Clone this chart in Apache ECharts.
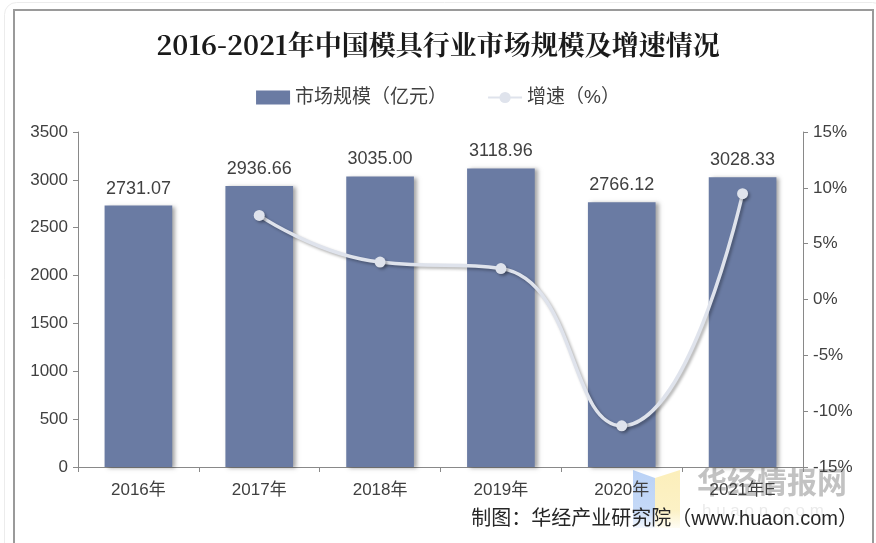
<!DOCTYPE html>
<html><head><meta charset="utf-8">
<script src="https://cdn.jsdelivr.net/npm/echarts@6/dist/echarts.min.js"></script>
<style>html,body{margin:0;padding:0;background:#fff;}#c{width:876px;height:543px;}</style>
</head><body><div id="c"></div>
<script>
var categories = ['2016年','2017年','2018年','2019年','2020年','2021年E'];
var marketSize = [2731.07, 2936.66, 3035.00, 3118.96, 2766.12, 3028.33];
var growthRate = [null, 7.53, 3.35, 2.77, -11.31, 9.48];
var leftTicks = {min: 0, max: 3500, interval: 500};
var rightTicks = {min: -15, max: 15, interval: 5};

var FONT = '"Liberation Sans", Arial, "Noto Sans CJK SC", sans-serif';
var chart = echarts.init(document.getElementById('c'), null, {renderer: 'canvas'});
chart.setOption({
  backgroundColor: '#fff',
  animation: false,
  title: {
    text: '2016-2021年中国模具行业市场规模及增速情况',
    left: 'center', top: 26,
    textStyle: {fontFamily: '"Noto Serif CJK SC","Noto Sans CJK SC", serif', fontWeight: 'bold', fontSize: 27, color: '#1a1a1a'}
  },
  legend: {
    top: 83, left: 'center', itemGap: 40,
    textStyle: {fontFamily: FONT, fontSize: 19, color: '#404040'},
    data: [
      {name: '市场规模（亿元）', icon: 'rect', itemStyle: {color: '#6a7ba3'}},
      {name: '增速（%）'}
    ],
    itemWidth: 34, itemHeight: 14
  },
  graphic: [
    {type: 'rect', shape: {x: 4.5, y: 2.5, width: 880, height: 560, r: 12}, style: {fill: 'none', stroke: '#ececec', lineWidth: 1}, z: -2},
    {type: 'rect', shape: {x: 14, y: 10, width: 859, height: 545}, style: {fill: 'none', stroke: '#9a9a9a', lineWidth: 2}, z: -1},
    {type: 'polygon', shape: {points: [[633,470],[655,478],[655,528],[633,528]]},
     style: {fill: new echarts.graphic.LinearGradient(0,0,0,1,[{offset:0,color:'rgba(140,180,240,0.6)'},{offset:0.7,color:'rgba(140,180,240,0.5)'},{offset:1,color:'rgba(140,180,240,0.1)'}])}},
    {type: 'polygon', shape: {points: [[655,478],[680,470],[680,528],[655,528]]},
     style: {fill: new echarts.graphic.LinearGradient(0,0,0,1,[{offset:0,color:'rgba(250,230,150,0.65)'},{offset:0.7,color:'rgba(250,230,150,0.55)'},{offset:1,color:'rgba(250,230,150,0.1)'}])}},
    {type: 'text', left: 697, top: 467, style: {text: '华经情报网', font: 'bold 30px "Noto Sans CJK SC"', fill: 'rgba(120,120,120,0.45)'}},
    {type: 'text', left: 702, top: 503, style: {text: 'h u a o n . c o m', font: '17px "Liberation Sans"', fill: 'rgba(150,150,150,0.2)'}},
    {type: 'text', right: 18, top: 509, style: {text: '制图：华经产业研究院（www.huaon.com）', font: '20px "Liberation Sans","Noto Sans CJK SC"', fill: '#262626'}}
  ],
  grid: {left: 78, right: 73, top: 132, bottom: 76},
  xAxis: {
    type: 'category', data: categories,
    axisLine: {lineStyle: {color: '#898989'}},
    axisTick: {show: true, alignWithLabel: false, length: 5, lineStyle: {color: '#898989'}},
    axisLabel: {fontFamily: FONT, fontSize: 17, color: '#404040', margin: 15}
  },
  yAxis: [
    {type: 'value', min: leftTicks.min, max: leftTicks.max, interval: leftTicks.interval,
     splitLine: {show: false},
     axisLine: {show: true, lineStyle: {color: '#898989'}},
     axisTick: {show: true, length: 5, lineStyle: {color: '#898989'}},
     axisLabel: {fontFamily: FONT, fontSize: 17, color: '#404040', margin: 10,
                 formatter: function(v){return String(v);}}},
    {type: 'value', min: rightTicks.min, max: rightTicks.max, interval: rightTicks.interval,
     splitLine: {show: false},
     axisLine: {show: true, lineStyle: {color: '#898989'}},
     axisTick: {show: true, length: 5, lineStyle: {color: '#898989'}},
     axisLabel: {fontFamily: FONT, fontSize: 17, color: '#404040', margin: 10, formatter: '{value}%'}}
  ],
  series: [
    {name: '市场规模（亿元）', type: 'bar', data: marketSize, barWidth: '56%',
     itemStyle: {color: '#6a7ba3', shadowColor: 'rgba(0,0,0,0.35)', shadowBlur: 4, shadowOffsetX: 3, shadowOffsetY: 1},
     label: {show: true, position: 'top', distance: 8, fontFamily: FONT, fontSize: 18, color: '#404040',
             formatter: function(p){return p.value.toFixed(2);}}},
    {name: '增速（%）', type: 'line', yAxisIndex: 1, data: growthRate, smooth: true,
     symbol: 'circle', symbolSize: 11, connectNulls: false,
     lineStyle: {color: '#dfe3ec', width: 3.5, shadowColor: 'rgba(0,0,0,0.3)', shadowBlur: 3, shadowOffsetX: 2, shadowOffsetY: 2},
     itemStyle: {color: '#dfe3ec', shadowColor: 'rgba(0,0,0,0.3)', shadowBlur: 3, shadowOffsetX: 2, shadowOffsetY: 2}}
  ]
});
</script></body></html>
